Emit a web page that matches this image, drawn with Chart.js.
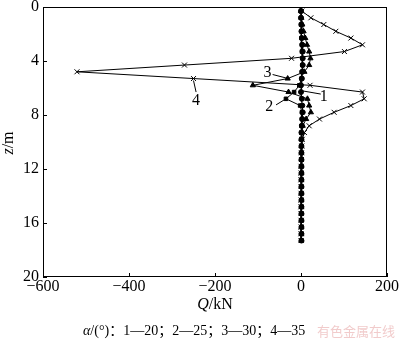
<!DOCTYPE html>
<html>
<head>
<meta charset="utf-8">
<script src="https://cdn.jsdelivr.net/npm/chart.js@4.4.0/dist/chart.umd.min.js"></script>
<style>
  html, body { margin: 0; padding: 0; background: #fff; }
  #wrap { width: 400px; height: 339px; }
</style>
</head>
<body>
<div id="wrap"><canvas id="qChart" width="400" height="339"></canvas></div>
<script>
// depth along the pile, m
const depth = [0.3, 0.8, 1.3, 1.8, 2.3, 2.8, 3.3, 3.8, 4.3, 4.8, 5.3, 5.8, 6.3, 6.8, 7.3, 7.8, 8.3, 8.8,
  9.3, 9.8, 10.3, 10.8, 11.3, 11.8, 12.3, 12.8, 13.3, 13.8, 14.3, 14.8, 15.3, 15.8, 16.3, 16.8, 17.3];

// shear force Q, kN, for each angle
const q20 = [0, 0, 1, 1, 2, 3, 4, 4, 4, 3, 2, 0, 0, 2, 3, 4, 3, 2, 1,
  1, 1, 1, 1, 1, 1, 1, 1, 1, 1, 1, 1, 1, 1, 1, 1];
const q25 = [0, 0, 0, 1, 1, 2, 2, 3, 3, 2, 1, -4, -16, -35, -2, 2, 2, 1, 1,
  1, 1, 1, 1, 1, 1, 1, 1, 1, 1, 1, 1, 1, 1, 1, 1];
const q30 = [0, 1, 3, 6, 10, 14, 19, 22, 19, 8, -31, -112, -29, 15, 19, 23, 12, 4, 2,
  1, 1, 1, 1, 1, 1, 1, 1, 1, 1, 1, 1, 1, 1, 1, 1];
const q35 = [2, 23, 53, 81, 116, 143, 101, -22, -271, -521, -250, 21, 143, 147, 116, 77, 43, 19, 8,
  3, 2, 1, 1, 0, 0, 0, 0, 0, 0, 0, 0, 0, 0, 0, 0];

const xTicks = [-600, -400, -200, 0, 200];
const yTicks = [0, 4, 8, 12, 16, 20];

// curve labels with leader lines (text at [Q, z], leader from/to)
const curveTags = [
  { text: "1", at: [53, 6.65], from: [46, 6.45], to: [1, 6.2] },
  { text: "2", at: [-74, 7.4], from: [-58, 7.25], to: [-35, 6.8] },
  { text: "3", at: [-78, 4.9], from: [-66, 5.0], to: [-32, 5.28] },
  { text: "4", at: [-244, 6.95], from: [-250, 5.45], to: [-244, 6.3] },
];

const SERIF = "'Liberation Serif', 'DejaVu Serif', serif";

const toPts = (qs) => qs.map((q, i) => ({ x: q, y: depth[i] }));

function series(qs, style, radius) {
  return {
    data: toPts(qs),
    showLine: true,
    borderColor: "#000",
    backgroundColor: "#000",
    borderWidth: 1,
    pointStyle: style,
    pointRadius: radius,
    pointBorderWidth: 1,
    pointBorderColor: "#000",
    pointBackgroundColor: "#000",
  };
}

// no extra room for edge labels: plot box is set by layout padding only
function noEdgePad(s) {
  s.paddingTop = 0;
  s.paddingBottom = 0;
  s.paddingLeft = 0;
  s.paddingRight = 0;
}

// frame, inner ticks, axis titles, curve labels, caption
const decor = {
  id: "decor",
  afterDraw(chart) {
    const { ctx, chartArea: a, scales } = chart;
    const xs = scales.x, ys = scales.y;
    ctx.save();
    ctx.strokeStyle = "#000";
    ctx.lineWidth = 1;
    ctx.strokeRect(Math.round(a.left) + 0.5, Math.round(a.top) + 0.5,
      Math.round(a.right - a.left) - 1, Math.round(a.bottom - a.top) - 1);

    ctx.beginPath();
    xTicks.forEach(v => {
      const px = Math.round(xs.getPixelForValue(v)) + 0.5;
      ctx.moveTo(px, a.bottom);
      ctx.lineTo(px, a.bottom - 4);
    });
    yTicks.forEach(v => {
      const py = Math.round(ys.getPixelForValue(v)) + 0.5;
      ctx.moveTo(a.left, py);
      ctx.lineTo(a.left + 4, py);
    });
    ctx.stroke();

    // leader lines and numbers
    ctx.fillStyle = "#000";
    ctx.font = "16px " + SERIF;
    ctx.textAlign = "center";
    ctx.textBaseline = "middle";
    curveTags.forEach(t => {
      ctx.beginPath();
      ctx.moveTo(xs.getPixelForValue(t.from[0]), ys.getPixelForValue(t.from[1]));
      ctx.lineTo(xs.getPixelForValue(t.to[0]), ys.getPixelForValue(t.to[1]));
      ctx.stroke();
      ctx.fillText(t.text, xs.getPixelForValue(t.at[0]), ys.getPixelForValue(t.at[1]));
    });

    // x title: Q/kN
    const cx = (a.left + a.right) / 2;
    ctx.textAlign = "left";
    ctx.font = "italic 16px " + SERIF;
    const wQ = ctx.measureText("Q").width;
    ctx.font = "16px " + SERIF;
    const wRest = ctx.measureText("/kN").width;
    let x0 = cx - (wQ + wRest) / 2;
    ctx.font = "italic 16px " + SERIF;
    ctx.fillText("Q", x0, 305);
    ctx.font = "16px " + SERIF;
    ctx.fillText("/kN", x0 + wQ, 305);

    // y title: z/m
    ctx.save();
    ctx.translate(9, 143);
    ctx.rotate(-Math.PI / 2);
    ctx.font = "italic 16px " + SERIF;
    const wz = ctx.measureText("z").width;
    ctx.font = "16px " + SERIF;
    const wm = ctx.measureText("/m").width;
    ctx.font = "italic 16px " + SERIF;
    ctx.fillText("z", -(wz + wm) / 2, 0);
    ctx.font = "16px " + SERIF;
    ctx.fillText("/m", -(wz + wm) / 2 + wz, 0);
    ctx.restore();

    // caption
    const capFont = "14px " + SERIF + ", 'Noto Sans CJK SC'";
    ctx.font = "italic 14px " + SERIF;
    ctx.fillText("α", 83, 331);
    const wa = ctx.measureText("α").width;
    ctx.font = capFont;
    ctx.fillText("/(°)：1—20；2—25；3—30；4—35", 83 + wa, 331);

    // site mark
    ctx.fillStyle = "rgba(230, 160, 160, 0.55)";
    ctx.font = "13px 'Noto Sans CJK SC'";
    ctx.fillText("有色金属在线", 317, 331);
    ctx.restore();
  }
};

new Chart(document.getElementById("qChart"), {
  type: "scatter",
  data: {
    datasets: [
      series(q35, "crossRot", 3.5),
      series(q30, "triangle", 3),
      series(q25, "rect", 2.5),
      series(q20, "circle", 2.5),
    ],
  },
  options: {
    responsive: false,
    animation: false,
    layout: { autoPadding: false, padding: { top: 7, right: 13, left: 0, bottom: 0 } },
    plugins: { legend: { display: false }, tooltip: { enabled: false } },
    scales: {
      x: {
        type: "linear",
        min: -600,
        max: 200,
        afterBuildTicks: (s) => { s.ticks = xTicks.map(v => ({ value: v })); },
        afterFit: (s) => { s.height = 62; noEdgePad(s); },
        grid: { display: false, drawTicks: false },
        border: { display: false },
        ticks: {
          padding: 0,
          color: "#000",
          font: { family: SERIF, size: 16 },
          callback: (v) => (v < 0 ? "\u2212" + Math.abs(v) : String(v)),
        },
      },
      y: {
        type: "linear",
        reverse: true,
        min: 0,
        max: 20,
        afterBuildTicks: (s) => { s.ticks = yTicks.map(v => ({ value: v })); },
        afterFit: (s) => { s.width = 43; noEdgePad(s); },
        grid: { display: false, drawTicks: false },
        border: { display: false },
        ticks: {
          padding: 4,
          color: "#000",
          font: { family: SERIF, size: 16 },
        },
      },
    },
  },
  plugins: [decor],
});
</script>
</body>
</html>
